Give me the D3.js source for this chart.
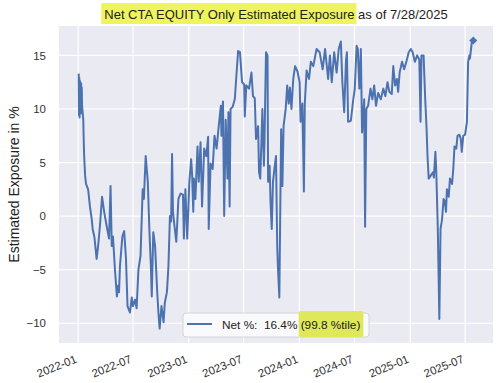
<!DOCTYPE html>
<html>
<head>
<meta charset="utf-8">
<script src="https://cdn.jsdelivr.net/npm/d3@7"></script>
<style>
body { margin: 0; background: #fff; }
text { font-family: "Liberation Sans", Arial, sans-serif; white-space: pre; }
</style>
</head>
<body>
<div id="container"></div>
<script>
// daily-ish readings of the net CTA equity exposure (%)
const dates = [
  "2022-01-03","2022-01-04","2022-01-05","2022-01-06","2022-01-07","2022-01-10","2022-01-11","2022-01-12","2022-01-13","2022-01-14",
  "2022-01-18","2022-01-20","2022-01-21","2022-01-24","2022-01-27","2022-02-03","2022-02-09","2022-02-15","2022-02-18","2022-02-24",
  "2022-03-03","2022-03-08","2022-03-14","2022-03-21","2022-03-24","2022-03-28","2022-04-05","2022-04-13","2022-04-18","2022-04-22",
  "2022-04-26","2022-05-03","2022-05-09","2022-05-13","2022-05-16","2022-05-19","2022-05-27","2022-06-02","2022-06-08","2022-06-13",
  "2022-06-21","2022-06-27","2022-07-01","2022-07-08","2022-07-13","2022-07-19","2022-07-26","2022-08-02","2022-08-06","2022-08-12",
  "2022-08-19","2022-08-24","2022-08-29","2022-09-01","2022-09-06","2022-09-12","2022-09-19","2022-09-23","2022-09-27","2022-10-03",
  "2022-10-10","2022-10-14","2022-10-21","2022-10-26","2022-10-31","2022-11-04","2022-11-07","2022-11-10","2022-11-16","2022-11-21",
  "2022-11-28","2022-12-05","2022-12-13","2022-12-16","2022-12-21","2022-12-27","2023-01-03","2023-01-09","2023-01-12","2023-01-16",
  "2023-01-18","2023-01-23","2023-01-30","2023-02-03","2023-02-09","2023-02-14","2023-02-21","2023-02-28","2023-03-06","2023-03-08",
  "2023-03-14","2023-03-21","2023-03-27","2023-04-03","2023-04-10","2023-04-17","2023-04-19","2023-04-24","2023-04-28","2023-05-03",
  "2023-05-09","2023-05-12","2023-05-16","2023-05-19","2023-05-26","2023-06-02","2023-06-08","2023-06-13","2023-06-19","2023-06-26",
  "2023-07-03","2023-07-05","2023-07-10","2023-07-19","2023-07-27","2023-08-01","2023-08-07","2023-08-11","2023-08-18","2023-08-21",
  "2023-08-25","2023-08-29","2023-09-01","2023-09-06","2023-09-08","2023-09-13","2023-09-18","2023-09-20","2023-09-25","2023-09-28",
  "2023-10-02","2023-10-06","2023-10-12","2023-10-16","2023-10-20","2023-10-23","2023-10-27","2023-11-02","2023-11-06","2023-11-10",
  "2023-11-17","2023-11-22","2023-11-27","2023-12-01","2023-12-06","2023-12-12","2023-12-18","2023-12-26","2024-01-02","2024-01-05",
  "2024-01-11","2024-01-16","2024-01-19","2024-01-25","2024-02-02","2024-02-08","2024-02-16","2024-02-27","2024-03-08","2024-03-18",
  "2024-03-26","2024-04-05","2024-04-11","2024-04-17","2024-04-25","2024-05-03","2024-05-10","2024-05-17","2024-05-22","2024-05-28",
  "2024-06-03","2024-06-06","2024-06-10","2024-06-19","2024-06-27","2024-07-02","2024-07-08","2024-07-12","2024-07-17","2024-07-22",
  "2024-07-26","2024-08-02","2024-08-05","2024-08-09","2024-08-15","2024-08-23","2024-08-29","2024-09-04","2024-09-10","2024-09-17",
  "2024-09-26","2024-10-04","2024-10-11","2024-10-18","2024-10-24","2024-11-01","2024-11-06","2024-11-12","2024-11-18","2024-11-22",
  "2024-11-27","2024-12-05","2024-12-12","2024-12-20","2024-12-27","2025-01-03","2025-01-09","2025-01-13","2025-01-16","2025-01-24",
  "2025-01-31","2025-02-04","2025-02-07","2025-02-14","2025-02-19","2025-02-24","2025-02-27","2025-03-03","2025-03-10","2025-03-17",
  "2025-03-20","2025-03-25","2025-03-28","2025-04-02","2025-04-07","2025-04-11","2025-04-16","2025-04-21","2025-04-25","2025-04-29",
  "2025-05-02","2025-05-08","2025-05-12","2025-05-19","2025-05-23","2025-05-27","2025-06-02","2025-06-06","2025-06-12","2025-06-17",
  "2025-06-20","2025-06-25","2025-07-01","2025-07-07","2025-07-11","2025-07-15","2025-07-17","2025-07-23","2025-07-28"
];
const values = [
  13.3, 9.4, 12.9, 9.2, 12.6, 10.0, 12.4, 9.6, 12.0, 10.3,
  9.0, 6.5, 5.6, 3.8, 3.0, 2.5, 0.9, -0.3, -1.2, -2.0,
  -4.0, -2.8, -0.9, 1.8, 1.2, 0.4, -0.9, -2.1, 2.8, -2.8,
  -1.9, -5.2, -7.5, -6.5, -7.1, -4.7, -1.9, -1.4, -4.0, -8.4,
  -9.0, -7.6, -8.4, -7.8, -8.6, -5.0, -3.7, 2.5, 1.6, 5.6,
  3.2, -1.2, -4.6, -7.5, -1.5, -2.8, -7.1, -9.0, -10.5, -8.4,
  -9.9, -8.1, -7.1, -4.7, 0.0, -0.5, 5.8, 0.4, -1.2, -2.4,
  1.6, 2.1, 2.0, -2.1, 2.5, -2.1, 3.2, 5.3, 4.0, 0.4,
  3.5, 1.6, 6.5, 3.2, 6.9, 0.9, 6.3, 5.6, 7.4, -1.2,
  4.9, 4.4, 7.5, 6.3, 8.4, 10.3, 7.5, 10.7, 0.0, 9.0,
  3.5, 9.7, 0.9, 10.0, 10.2, 10.9, 13.4, 15.4, 15.3, 12.5,
  12.3, 9.3, 12.2, 11.9, 13.4, 11.2, 11.0, 7.2, 8.4, 4.1,
  3.5, 7.0, 10.0, 4.7, 7.0, 15.3, 15.0, 3.2, 4.7, 1.3,
  -1.2, 3.2, 4.7, 5.6, -2.8, -5.2, -7.6, 8.1, 2.8, 8.4,
  10.0, 12.2, 10.5, 12.0, 10.0, 12.8, 14.0, 13.5, 12.5, 8.8,
  10.5, 2.3, 10.5, 13.6, 12.8, 14.4, 14.0, 15.6, 15.3, 13.7,
  15.6, 12.8, 15.0, 12.5, 15.3, 13.4, 15.6, 16.3, 12.5, 9.7,
  14.5, 15.3, 8.8, 8.9, 10.9, 11.9, 15.9, 15.6, 11.9, 15.6,
  7.8, 10.9, -1.0, 10.0, 10.3, 11.9, 10.9, 12.2, 10.3, 11.5,
  10.9, 11.9, 11.2, 12.5, 11.6, 11.4, 14.0, 12.2, 12.8, 11.6,
  13.4, 14.4, 13.7, 14.5, 15.3, 15.6, 15.3, 14.8, 14.4, 15.0,
  14.6, 8.8, 15.0, 15.0, 11.2, 8.1, 5.6, 3.5, 3.8, 4.1,
  3.6, 6.0, 4.1, -1.2, -9.6, -1.2, -0.3, 1.6, 1.4, 0.4,
  2.5, 1.8, 3.5, 3.0, 4.4, 6.5, 6.3, 7.5, 7.6, 7.2,
  6.0, 7.5, 7.6, 8.8, 14.4, 15.0, 14.7, 16.2, 16.4
];
const yTicks = [-10, -5, 0, 5, 10, 15];
const xTicks = ["2022-01", "2022-07", "2023-01", "2023-07", "2024-01", "2024-07", "2025-01", "2025-07"];
const titleMark = "Net CTA EQUITY Only Estimated Exposure";
const titleRest = " as of 7/28/2025";
const yLabel = "Estimated Exposure in %";
const legendText = "Net %:  16.4% ";
const legendMark = "(99.8 %tile)";

var width = 500, height = 383;
var plot = {left: 59, right: 493, top: 26, bottom: 343};
var parse = d3.timeParse("%Y-%m-%d");
var data = dates.map(function (d, i) { return {date: parse(d), value: values[i]}; });

// matplotlib-like 5% margins around the data
var t0 = data[0].date, t1 = data[data.length - 1].date;
var tp = (t1 - t0) * 0.05;
var x = d3.scaleTime().domain([new Date(+t0 - tp), new Date(+t1 + tp)]).range([plot.left, plot.right]);
var ext = d3.extent(values), vp = (ext[1] - ext[0]) * 0.05;
var y = d3.scaleLinear().domain([ext[0] - vp, ext[1] + vp]).range([plot.bottom, plot.top]);

var svg = d3.select('#container').append('svg').attr('width', width).attr('height', height);

svg.append('rect').attr('x', plot.left).attr('y', plot.top)
  .attr('width', plot.right - plot.left).attr('height', plot.bottom - plot.top).attr('fill', '#eaeaf2');

var xTickDates = xTicks.map(function (s) { return parse(s + "-01"); });

svg.append('g').selectAll('line').data(xTickDates).enter().append('line')
  .attr('x1', function (d) { return x(d); }).attr('x2', function (d) { return x(d); })
  .attr('y1', plot.top).attr('y2', plot.bottom).attr('stroke', '#fff').attr('stroke-width', 1.2);
svg.append('g').selectAll('line').data(yTicks).enter().append('line')
  .attr('x1', plot.left).attr('x2', plot.right)
  .attr('y1', function (d) { return y(d); }).attr('y2', function (d) { return y(d); })
  .attr('stroke', '#fff').attr('stroke-width', 1.2);

var yAxis = d3.axisLeft(y).tickValues(yTicks).tickSize(0).tickPadding(13);
var gy = svg.append('g').attr('transform', 'translate(' + plot.left + ',0)').call(yAxis);
gy.select('.domain').remove();
gy.selectAll('text').attr('font-size', 11.5).attr('fill', '#333').style('font-family', '"Liberation Sans", Arial, sans-serif');

var xAxis = d3.axisBottom(x).tickValues(xTickDates).tickFormat(d3.timeFormat("%Y-%m")).tickSize(0);
var gx = svg.append('g').attr('transform', 'translate(0,' + plot.bottom + ')').call(xAxis);
gx.select('.domain').remove();
gx.selectAll('text').attr('font-size', 11.4).attr('fill', '#333')
  .style('font-family', '"Liberation Sans", Arial, sans-serif')
  .attr('text-anchor', 'end').attr('y', 0).attr('dy', 0)
  .attr('transform', 'translate(-1,19) rotate(-22)');

var line = d3.line().x(function (d) { return x(d.date); }).y(function (d) { return y(d.value); });
svg.append('path').datum(data).attr('d', line).attr('fill', 'none')
  .attr('stroke', '#4c72b0').attr('stroke-width', 2).attr('stroke-linejoin', 'round');

var last = data[data.length - 1];
svg.append('path').attr('d', d3.symbol(d3.symbolSquare, 32)())
  .attr('transform', 'translate(' + x(last.date) + ',' + y(last.value) + ') rotate(45)')
  .attr('fill', '#4c72b0');

// title with highlighted part
var title = svg.append('g');
var tA = title.append('text').attr('y', 19).attr('font-size', 13).attr('fill', '#222').text(titleMark);
var tB = title.append('text').attr('y', 19).attr('font-size', 13).attr('fill', '#222').text(titleRest);
var wA = tA.node().getComputedTextLength(), wB = tB.node().getComputedTextLength();
var tx = (plot.left + plot.right) / 2 - (wA + wB) / 2;
title.insert('rect', 'text').attr('x', tx - 3).attr('y', 3).attr('width', wA + 5).attr('height', 21).attr('fill', '#eef55c');
tA.attr('x', tx);
tB.attr('x', tx + wA);

svg.append('text').attr('transform', 'translate(19,' + ((plot.top + plot.bottom) / 2) + ') rotate(-90)')
  .attr('text-anchor', 'middle').attr('font-size', 14).attr('fill', '#222').text(yLabel);

// legend
var lg = svg.append('g');
lg.append('rect').attr('x', 183).attr('y', 313).attr('width', 186).attr('height', 24).attr('rx', 3)
  .attr('fill', '#fafafc').attr('stroke', '#d4d4d8');
lg.append('line').attr('x1', 187).attr('x2', 212).attr('y1', 324).attr('y2', 324)
  .attr('stroke', '#4c72b0').attr('stroke-width', 2);
var lA = lg.append('text').attr('x', 222).attr('y', 329).attr('font-size', 11.8).attr('fill', '#222').text(legendText);
var wl = lA.node().getComputedTextLength();
var lB = lg.append('text').attr('x', 222 + wl).attr('y', 329).attr('font-size', 11.8).attr('fill', '#222').text(legendMark);
var wm = lB.node().getComputedTextLength();
lg.insert('rect', 'text:last-of-type').attr('x', 222 + wl - 2).attr('y', 311).attr('width', wm + 5).attr('height', 26)
  .attr('rx', 2).attr('fill', '#dfe85a');
</script>
</body>
</html>
